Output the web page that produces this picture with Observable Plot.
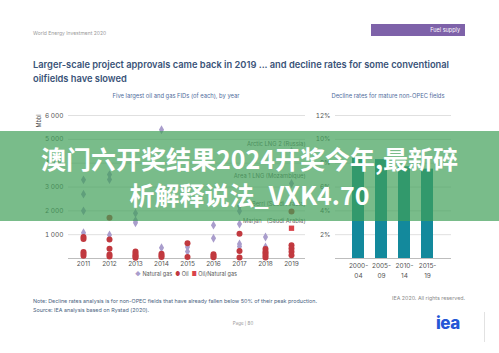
<!DOCTYPE html>
<html><head><meta charset="utf-8">
<script src="https://cdn.jsdelivr.net/npm/d3@7"></script>
<script src="https://cdn.jsdelivr.net/npm/@observablehq/plot@0.6"></script>
<style>
body{margin:0;background:#fff;font-family:Inter,"Open Sans",sans-serif;}
#page{position:relative;width:499px;height:353px;overflow:hidden;background:#fff;}
.abs{position:absolute;white-space:nowrap;}
#scatter,#bars{position:absolute;top:100px;}
#scatter{left:0;}
#bars{left:280px;}
</style></head><body><div id="page">
<div class="abs" style="left:33px;top:30px;font-size:5px;color:#9a9a9a;">World Energy Investment 2020</div>
<div class="abs" style="left:371px;top:24px;width:94px;height:12px;background:#7e62a9;"></div>
<div class="abs" style="left:371px;top:24px;width:89px;height:12px;line-height:12px;text-align:right;font-size:5.5px;color:#fff;">Fuel supply</div>
<div class="abs" style="left:33px;top:58px;font-size:9.3px;font-weight:600;color:#3a5378;line-height:14px;">Larger-scale project approvals came back in 2019 ... and decline rates for some conventional<br>oilfields have slowed</div>
<div class="abs" style="left:76px;width:200px;top:92px;text-align:center;font-size:5.8px;color:#4f6c9c;">Five largest oil and gas FIDs (of each), by year</div>
<div class="abs" style="left:288px;width:200px;top:92px;text-align:center;font-size:5.8px;color:#4f6c9c;">Decline rates for mature non-OPEC fields</div>
<div class="abs" style="left:32px;top:118px;font-size:5.5px;color:#555;transform:rotate(-90deg);">Mbbl</div>
<div id="scatter"></div>
<div id="bars"></div>
<div class="abs" style="left:86px;width:200px;top:271px;text-align:center;font-size:5.5px;color:#555;"><span style="color:#a99dcc">&#9670;</span> Natural gas &nbsp;<span style="color:#c1393f">&#9679;</span> Oil &nbsp;<span style="color:#d9434a">&#9632;</span> Oil/Natural gas</div>
<div class="abs" style="left:365px;width:100px;top:295px;text-align:right;font-size:5.3px;color:#8a8a8a;">IEA 2020. All rights reserved.</div>
<div class="abs" style="left:33px;top:297px;font-size:5.4px;color:#4a5f80;line-height:8.7px;">Note: Decline rates analysis is for non-OPEC fields that have already fallen below 50% of their peak production.<br>Source: IEA analysis based on Rystad (2020).</div>
<div class="abs" style="left:193px;width:100px;top:321px;text-align:center;font-size:4.5px;color:#999;">Page | 80</div>
<div class="abs" style="left:436px;top:313px;font-size:17px;font-weight:800;color:#2457d6;letter-spacing:-0.5px;">iea</div>
<div class="abs" style="left:484px;top:312px;width:1px;height:30px;background:#e2e2e2;"></div>
<div class="abs" style="left:0;top:131px;width:499px;height:90px;background:rgba(64,160,88,0.7);"></div>
<div class="abs" style="left:0;top:140px;width:499px;text-align:center;font-family:'Noto Sans CJK SC',sans-serif;font-weight:700;font-size:25px;line-height:36px;color:#fff;">澳门六开奖结果2024开奖今年,最新碎<br>析解释说法_VXK4.70</div>
</div>
<script>
const years = ["2011","2012","2013","2014","2015","2016","2017","2018","2019"];
const gasYears  = [2011,2011,2011,2011, 2012,2012,2012, 2013,2013,2013, 2014,2014, 2015,2015, 2016,2016, 2017,2017,2017,2017,2017, 2018,2018, 2019,2019];
const gasValues = [3300,2700,2000,1080, 3520,3310,990, 1900,1590,1500, 5400,450, 480,290, 1400,850, 2200,1990,1450,610,500, 900,480, 4500,3150];
const oilYears  = [2011,2011,2011,2011,2011, 2012,2012,2012,2012,2012, 2013,2013,2013,2013,2013, 2014,2014,2014, 2015,2015, 2016,2016,2016, 2017,2017,2017, 2018,2018,2018,2018,2018, 2019,2019,2019,2019,2019];
const oilValues = [900,820,270,200,120, 1710,800,410,170,80, 290,210,140,80,30, 200,130,60, 640,60, 180,110,50, 1040,310,40, 400,280,220,130,40, 1975,560,420,280,140];
const mixYears  = [2019];
const mixValues = [1270];
const labelYears  = [2019,2019,2019,2019];
const labelValues = [4500,3150,1975,1270];
const labelNames  = ["Arctic LNG 2 (Russia)","Area 1 LNG (Mozambique)","Berri (Saudi Arabia)","Marjan   (Saudi Arabia)"];
const scatterTicks = [1000,2000,3000,4000,5000,6000];

const periods = ["2000-04","2005-09","2010-14","2015-19"];
const declineRates = [8.4,8.3,7.7,7.5];
const rateTicks = [2,4,6,8,10,12];

const fmtSpace = d => d3.format(",")(d).replace(/,/g," ");
const idx = a => a.map((_, i) => i);

const scatter = Plot.plot({
  width: 310, height: 188, marginLeft: 68, marginRight: 5, marginTop: 15, marginBottom: 30,
  style: {fontFamily: "Inter, sans-serif", fontSize: "6.5px", color: "#555", background: "transparent", overflow: "visible"},
  x: {type: "band", domain: years, padding: 0, axis: null},
  y: {domain: [0, 6000], axis: null},
  marks: [
    Plot.gridY(scatterTicks, {stroke: "#e0e0e0", strokeOpacity: 1}),
    Plot.axisY(scatterTicks, {tickSize: 0, tickPadding: 5, tickFormat: fmtSpace, label: null, fill: "#555"}),
    Plot.ruleY([0], {stroke: "#bdbdbd"}),
    Plot.axisX({tickSize: 0, tickPadding: 3, label: null, fill: "#555"}),
    Plot.dot(idx(gasValues), {x: i => String(gasYears[i]), y: i => gasValues[i], symbol: "diamond", r: 2.7, fill: "#a99dcc"}),
    Plot.dot(idx(oilValues), {x: i => String(oilYears[i]), y: i => oilValues[i], r: 3, fill: "#c1393f"}),
    Plot.dot(idx(mixValues), {x: i => String(mixYears[i]), y: i => mixValues[i], symbol: "square", r: 3, fill: "#d9434a"}),
    Plot.text(idx(labelNames), {x: i => String(labelYears[i]), y: i => labelValues[i], text: i => labelNames[i], textAnchor: "end", dx: 14, dy: -7, fontSize: 5.8, fill: "#666"})
  ]
});
document.getElementById("scatter").append(scatter);

const bars = Plot.plot({
  width: 219, height: 188, marginLeft: 55, marginRight: 48, marginTop: 15, marginBottom: 30,
  style: {fontFamily: "Inter, sans-serif", fontSize: "6.5px", color: "#555", background: "transparent", overflow: "visible"},
  x: {type: "band", domain: periods, range: [71, 153], paddingInner: 0.486, paddingOuter: 0, axis: null},
  y: {domain: [0, 12], axis: null},
  marks: [
    Plot.gridY(rateTicks, {stroke: "#e0e0e0", strokeOpacity: 1}),
    Plot.axisY(rateTicks, {tickSize: 0, tickPadding: 5, tickFormat: d => d + "%", label: null, fill: "#555"}),
    Plot.barY(idx(periods), {x: i => periods[i], y: i => declineRates[i], fill: "#13899c"}),
    Plot.ruleY([0], {stroke: "#bdbdbd"}),
    Plot.axisX({tickSize: 0, tickPadding: 3, label: null, fill: "#555", lineHeight: 1.45, tickFormat: d => d.replace("-", "-\n")})
  ]
});
document.getElementById("bars").append(bars);
</script>
</body></html>
